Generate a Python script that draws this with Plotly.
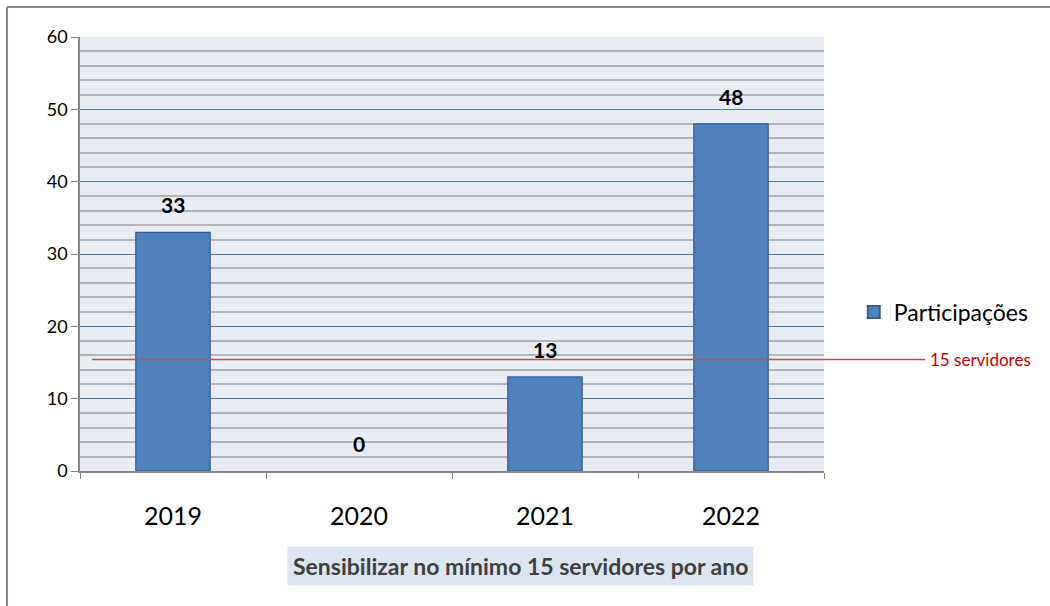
import plotly.graph_objects as go

years = ["2019", "2020", "2021", "2022"]
participacoes = [33, 0, 13, 48]
target_line = 15.4
target_label = "15 servidores"
title_text = "Sensibilizar no mínimo 15 servidores por ano"

FONT = "Lato, Open Sans, sans-serif"

fig = go.Figure()
fig.add_trace(go.Bar(
    x=years,
    y=participacoes,
    name="Participações",
    width=0.4,
    marker=dict(color="#4f81bd",
                line=dict(color="#385d8a", width=[1.2 if v else 0 for v in participacoes])),
))

# value labels above bars (category index so "2019" isn't read as a number)
for i, v in enumerate(participacoes):
    fig.add_annotation(x=i, y=v, text=f"<b>{v}</b>", showarrow=False,
                       yanchor="bottom", yshift=13,
                       font=dict(family=FONT, size=21, color="black"))

# target line + label
fig.add_shape(type="line", xref="paper", yref="y", x0=0.016, x1=1.136,
              y0=target_line, y1=target_line,
              line=dict(color="#c0504d", width=1.5))
fig.add_annotation(xref="paper", yref="y", x=1.14, y=target_line, text=target_label,
                   showarrow=False, xanchor="left", yanchor="middle",
                   font=dict(family=FONT, size=17, color="#c00000"))

# outer frame (top and left edges only visible)
fig.add_shape(type="line", xref="paper", yref="paper", x0=-0.0981, x1=1.31,
              y0=1.069, y1=1.069, line=dict(color="#878787", width=2))
fig.add_shape(type="line", xref="paper", yref="paper", x0=-0.0981, x1=-0.0981,
              y0=1.069, y1=-0.32, line=dict(color="#878787", width=2))

# bottom title box
fig.add_annotation(xref="paper", yref="paper", x=0.5915, y=-0.219, text=f"<b>{title_text}</b>",
                   showarrow=False, xanchor="center", yanchor="middle",
                   bgcolor="#dce6f2", borderpad=5,
                   font=dict(family=FONT, size=23, color="#404040"))

fig.update_layout(
    width=1050, height=606,
    margin=dict(l=80, r=226, t=37, b=135, autoexpand=False),
    paper_bgcolor="white",
    plot_bgcolor="#e8ecf4",
    showlegend=True,
    legend=dict(x=1.04, y=0.366, xanchor="left", yanchor="middle",
                font=dict(family=FONT, size=23, color="black"),
                itemsizing="constant"),
    xaxis=dict(
        type="category", range=[-0.5, len(years) - 0.5],
        tickson="boundaries", ticks="outside", ticklen=6,
        tickcolor="#888888", showline=True, linecolor="#888888", linewidth=1.5,
        showgrid=False, tickfont=dict(family=FONT, size=25, color="black"),
        tickangle=0, ticklabelstandoff=22,
    ),
    yaxis=dict(
        range=[0, 60], dtick=10, ticks="outside", ticklen=7, tickcolor="#888888",
        showline=True, linecolor="#888888", linewidth=1.5,
        showgrid=True, gridcolor="#4a7ebb", gridwidth=1.4,
        minor=dict(dtick=2, showgrid=True, gridcolor="#b5b5b5", gridwidth=1.5),
        zeroline=False,
        tickfont=dict(family=FONT, size=18, color="black"),
    ),
)

fig.write_html("out.html", config={"displayModeBar": False},
               post_script="document.body.style.margin='0';")
